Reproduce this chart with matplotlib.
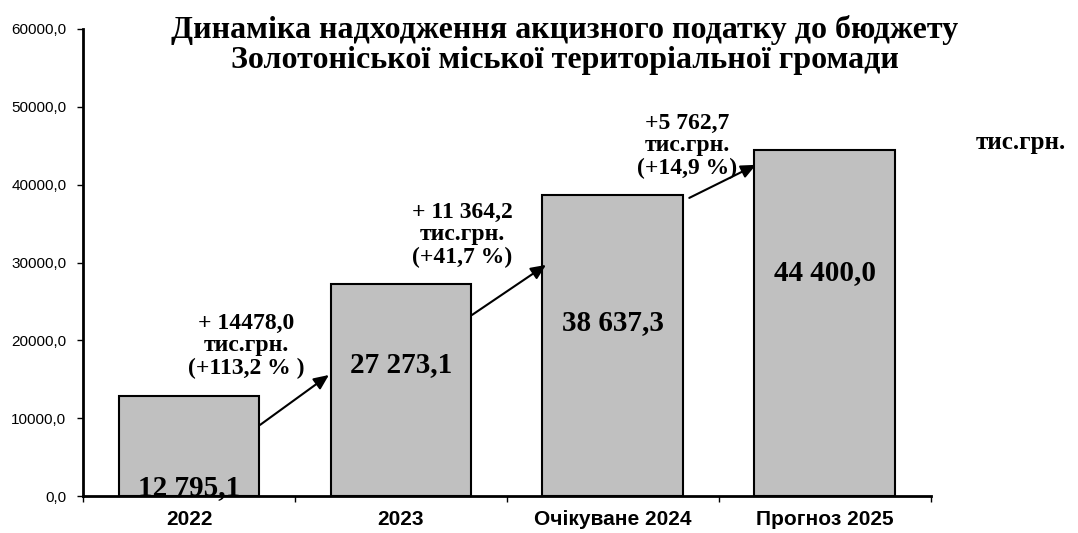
import matplotlib
matplotlib.use("Agg")
import matplotlib.pyplot as plt
import numpy as np

categories = ["2022", "2023", "Очікуване 2024", "Прогноз 2025"]
values = [12795.1, 27273.1, 38637.3, 44400.0]
value_labels = ["12 795,1", "27 273,1", "38 637,3", "44 400,0"]
label_y = [1150, 16840, 22240, 28660]
growth_labels = ["+ 14478,0\nтис.грн.\n(+113,2 % )",
                 "+ 11 364,2\nтис.грн.\n(+41,7 %)",
                 "+5 762,7\nтис.грн.\n(+14,9 %)"]
growth_text_pos = [(0.27, 19280), (1.29, 33550), (2.35, 45000)]
arrow_start = [(0.335, 9130), (1.335, 23260), (2.36, 38300)]
arrow_end = [(0.66, 15550), (1.684, 29690), (2.675, 42550)]
yticks = [0, 10000, 20000, 30000, 40000, 50000, 60000]
title = "Динаміка надходження акцизного податку до бюджету\nЗолотоніської міської територіальної громади"

fig = plt.figure(figsize=(10.78, 5.33), dpi=100)
ax = fig.add_axes([0.077, 0.0694, 0.7866, 0.8762])
x = np.arange(len(categories))
ax.bar(x, values, width=0.665, color="#c0c0c0", edgecolor="black", linewidth=1.5, zorder=2)
ax.set_xlim(-0.5, len(categories) - 0.5)
ax.set_ylim(0, 60000)
ax.set_yticks(yticks)
ax.set_yticklabels([f"{v},0" for v in yticks], fontfamily="Liberation Sans", fontsize=11)
ax.set_xticks(x)
ax.set_xticklabels(categories, fontfamily="Liberation Sans", fontsize=15, fontweight="bold")
ax.tick_params(axis="x", length=0, pad=10)
ax.set_xticks(np.arange(-0.5, len(categories)), minor=True)
ax.tick_params(axis="x", which="minor", length=4, width=1, direction="out")
ax.tick_params(axis="y", length=4, width=1, direction="out", pad=8)
for s in ["top", "right"]:
    ax.spines[s].set_visible(False)
ax.spines["left"].set_linewidth(2)
ax.spines["bottom"].set_linewidth(2)

for xi, ly, lab in zip(x, label_y, value_labels):
    ax.text(xi, ly, lab, ha="center", va="center", fontfamily="Liberation Serif",
            fontsize=21, fontweight="bold", zorder=3)

for (tx, ty), lab in zip(growth_text_pos, growth_labels):
    ax.text(tx, ty, lab, ha="center", va="center", fontfamily="Liberation Serif",
            fontsize=17, fontweight="bold", linespacing=1.1, zorder=4)

for s, e in zip(arrow_start, arrow_end):
    ax.annotate("", xy=e, xytext=s,
                arrowprops=dict(arrowstyle="-|>,head_length=0.9,head_width=0.4",
                                color="black", lw=1.5, shrinkA=0, shrinkB=0), zorder=5)

fig.text(0.524, 0.916, title, ha="center", va="center", fontfamily="Liberation Serif",
         fontsize=23, fontweight="bold", linespacing=1.07)
fig.text(0.947, 0.732, "тис.грн.", ha="center", va="center", fontfamily="Liberation Serif",
         fontsize=18, fontweight="bold")

fig.savefig("out.png", dpi=100)
